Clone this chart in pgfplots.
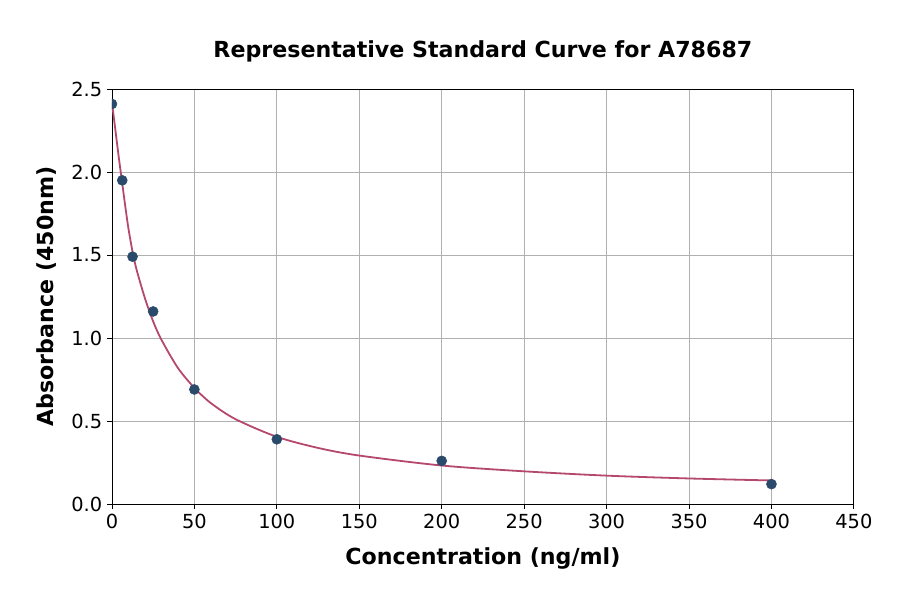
\documentclass[border=0pt]{standalone}
\usepackage{pgfplots}
\pgfplotsset{compat=1.18}
\usepackage{fontspec}
\setmainfont{DejaVu Sans}
\definecolor{ptcol}{HTML}{2A4A6C}
\definecolor{fitcol}{HTML}{B4486E}
\definecolor{gridcol}{HTML}{B0B0B0}
\begin{document}
\begin{tikzpicture}
\useasboundingbox (-80.6bp,-64.8bp) rectangle (567.4bp,362.9bp);
\begin{axis}[
  at={(0,0)}, anchor=south west,
  scale only axis, width=534.2bp, height=298.8bp,
  xmin=0, xmax=450, ymin=0, ymax=2.5,
  xtick={0,50,...,450},
  ytick={0,0.5,...,2.5},
  yticklabel style={/pgf/number format/.cd,fixed,fixed zerofill,precision=1},
  /pgf/number format/assume math mode=true,
  tick label style={font=\fontsize{14}{16}\selectfont},
  tick align=outside, major tick length=3.5bp,
  tick style={black, line width=0.6bp},
  xtick pos=bottom, ytick pos=left,
  axis line style={black, line width=0.6bp},
  grid=major, major grid style={gridcol, line width=0.6bp},
  title={\bfseries Representative Standard Curve for A78687},
  title style={font=\fontsize{16}{18}\selectfont, yshift=10bp},
  xlabel={\bfseries Concentration (ng/ml)},
  ylabel={\bfseries Absorbance (450nm)},
  label style={font=\fontsize{16}{18}\selectfont},
  xlabel style={yshift=-7bp},
  ylabel style={yshift=4bp},
  clip marker paths=true,
]
\addplot[fitcol, line width=1.3bp, smooth, mark=none] coordinates {
  (0,2.42) (2,2.26) (4,2.10) (6,1.95) (8,1.80) (10,1.66) (12.5,1.52)
  (15,1.41) (20,1.24) (25,1.10) (30,0.99) (40,0.82) (50,0.70) (60,0.608)
  (75,0.511) (100,0.405) (125,0.338) (150,0.292) (200,0.232) (250,0.197)
  (300,0.171) (350,0.154) (400,0.142)
};
\addplot[only marks, mark=*, mark size=3.6bp, ptcol, mark options={draw=ptcol, fill=ptcol}] coordinates {
  (0,2.41) (6.25,1.95) (12.5,1.49) (25,1.16) (50,0.69) (100,0.39) (200,0.26) (400,0.12)
};
\end{axis}
\end{tikzpicture}
\end{document}
